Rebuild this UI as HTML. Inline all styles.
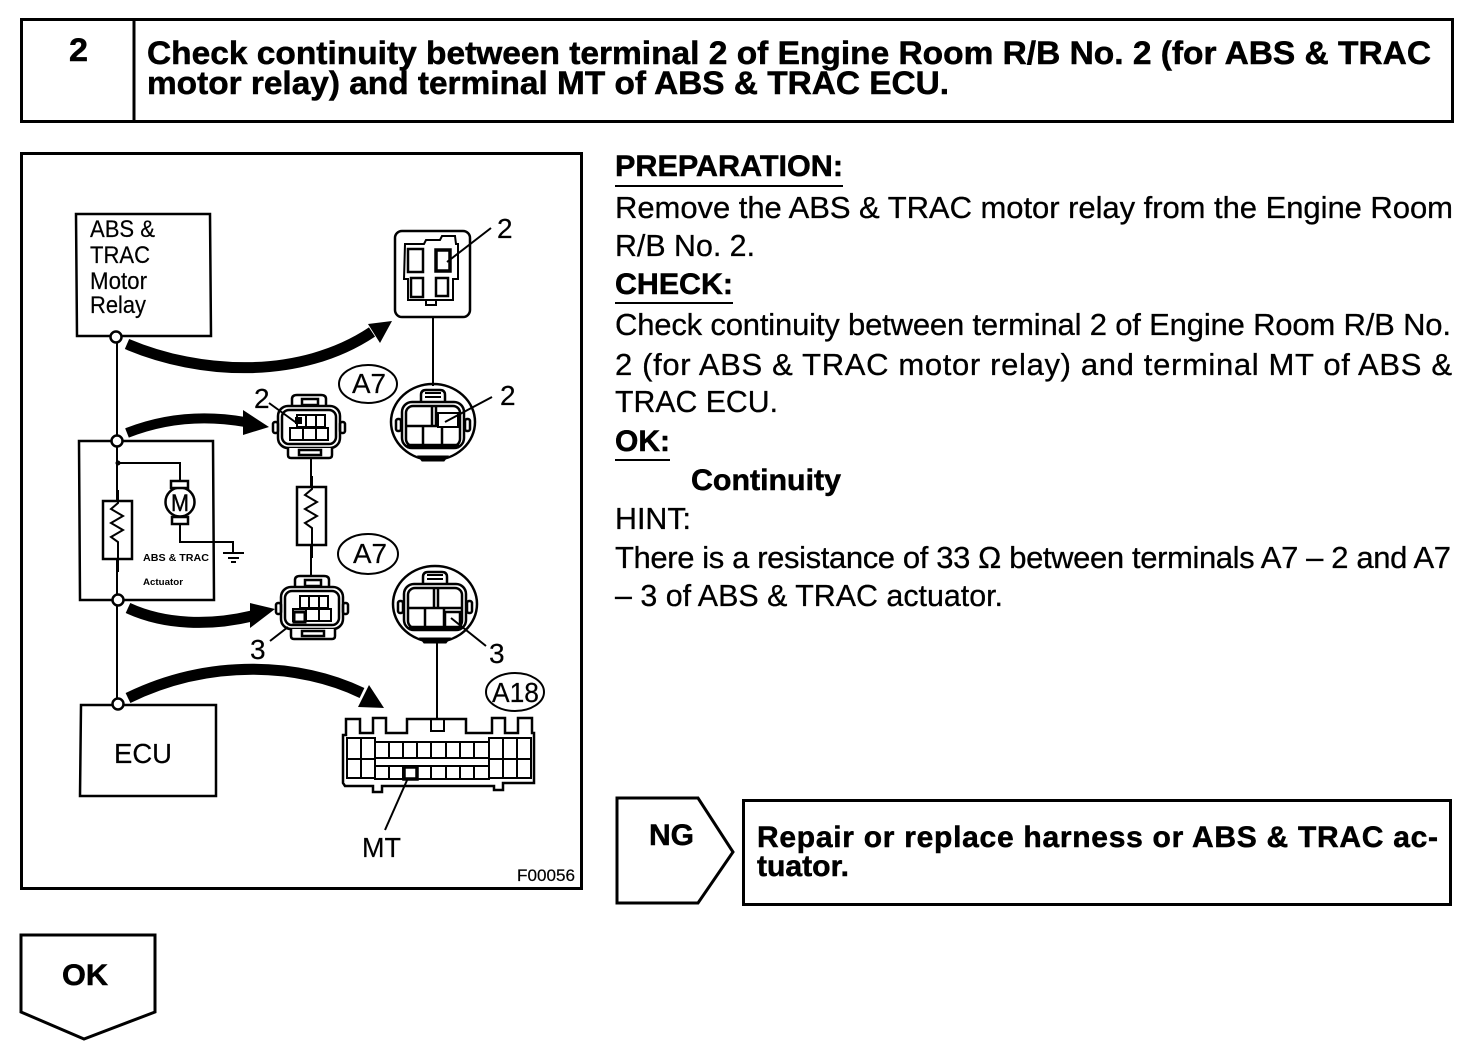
<!DOCTYPE html>
<html><head><meta charset="utf-8"><style>
html,body{margin:0;padding:0;background:#fff}
svg{display:block}
text{font-family:"Liberation Sans",sans-serif;fill:#000}
.t{font-size:32px;font-weight:bold;stroke:#000;stroke-width:.5}
.b{font-size:31px;stroke:#000;stroke-width:.3}
.h{font-size:30px;font-weight:bold;stroke:#000;stroke-width:.5}
.l{font-size:28px;stroke:#000;stroke-width:.2}
.s{font-size:24px;stroke:#000;stroke-width:.2}
.n{font-size:29px}
</style></head><body>
<svg width="1472" height="1064" viewBox="0 0 1472 1064" xmlns="http://www.w3.org/2000/svg">
<defs>
<g id="conn" fill="none" stroke="#000" stroke-width="2.5">
<path d="M-18,-20 v-8 q0,-4 5,-4 h24 q5,0 5,4 v8" fill="#fff"/>
<rect x="-8" y="-28" width="16" height="6"/>
<rect x="-32" y="-21" width="62" height="42" rx="10" fill="#fff"/>
<rect x="-28" y="-17" width="54" height="34" rx="7"/>
<rect x="-37" y="-5" width="5" height="11" rx="2"/>
<rect x="30" y="-5" width="5" height="11" rx="2"/>
<path d="M-22,21 v7 q0,3 3,3 h38 q3,0 3,-3 v-7" fill="#fff"/>
<rect x="-11" y="23" width="22" height="5"/>
<path d="M-13,-12 h28 v12 h-28 z M-4,-12 v12 M6,-12 v12 M-20,1 h38 v12 h-38 z M-7,1 v12 M6,1 v12" stroke-width="2"/>
</g>
<g id="round" fill="none" stroke="#000" stroke-width="2.5">
<ellipse cx="0" cy="-3" rx="42" ry="38"/>
<path d="M-12,-23 v-7 q0,-5 5,-5 h14 q5,0 5,5 v7" fill="#fff"/>
<path d="M-8,-28 h16 M-8,-32 h16" stroke-width="2"/>
<rect x="-31" y="-23" width="62" height="46" rx="10" fill="#fff"/>
<rect x="-27" y="-19" width="54" height="40" rx="7"/>
<path d="M-26,21 h52" stroke-width="4.5"/>
<path d="M-26,1 h53 M-10,1 v19 M9,1 v19 M-1,-18 v19 M3,-18 v19" stroke-width="2.5"/>
<path d="M-15,31 l4,5 h22 l4,-5 z" fill="#000" stroke-width="1"/>
<rect x="-37" y="-6" width="5" height="12" rx="2"/>
<rect x="32" y="-6" width="5" height="12" rx="2"/>
</g>
<g id="res" fill="none" stroke="#000" stroke-width="2.5">
<rect x="-15" y="-29" width="29" height="58" fill="#fff"/>
<path d="M0,-40 v13 l-7,6 l12,7 l-12,7 l12,7 l-12,7 l7,5 v30" stroke-width="2"/>
</g>
</defs>

<!-- header -->
<rect x="21.5" y="19.5" width="1431" height="102" fill="none" stroke="#000" stroke-width="3"/>
<line x1="134" y1="19" x2="134" y2="121" stroke="#000" stroke-width="3"/>
<text x="69" y="61" class="t" textLength="19" lengthAdjust="spacingAndGlyphs">2</text>
<text x="147" y="64" class="t" textLength="1284" lengthAdjust="spacingAndGlyphs">Check continuity between terminal 2 of Engine Room R/B No. 2 (for ABS &amp; TRAC</text>
<text x="147" y="94" class="t" textLength="802" lengthAdjust="spacingAndGlyphs">motor relay) and terminal MT of ABS &amp; TRAC ECU.</text>

<!-- diagram frame -->
<rect x="21.5" y="153.5" width="560" height="735" fill="none" stroke="#000" stroke-width="3"/>

<!-- left blocks -->
<g fill="none" stroke="#000" stroke-width="2.5">
<path d="M76,214 H210 L211,336 H77 Z"/>
<path d="M79,441 H213 L214,600 H80 Z"/>
<path d="M81,705 H216 V796 H80 Z"/>
<path d="M117,337 V705" stroke-width="2"/>
<path d="M118,463 H180 V481" stroke-width="2"/>
<path d="M180,524 V542 H233 V553" stroke-width="2"/>
<path d="M223,553 H244 M228,558 H239 M231,562 H236" stroke-width="2"/>
<circle cx="180" cy="502" r="14.5"/>
<rect x="171" y="481" width="17" height="7" fill="#fff"/>
<rect x="172" y="517" width="16" height="7" fill="#fff"/>
</g>
<circle cx="118" cy="463" r="2.5" fill="#000"/>
<use href="#res" x="118" y="530"/>
<g fill="#fff" stroke="#000" stroke-width="2.5">
<circle cx="116" cy="337" r="5.5"/><circle cx="117" cy="441" r="5.5"/>
<circle cx="118" cy="600" r="5.5"/><circle cx="118" cy="704" r="5.5"/>
</g>
<text x="90" y="237" class="s" textLength="65" lengthAdjust="spacingAndGlyphs">ABS &amp;</text>
<text x="90" y="263" class="s" textLength="60" lengthAdjust="spacingAndGlyphs">TRAC</text>
<text x="90" y="289" class="s" textLength="57" lengthAdjust="spacingAndGlyphs">Motor</text>
<text x="90" y="313" class="s" textLength="56" lengthAdjust="spacingAndGlyphs">Relay</text>
<text x="114" y="763" class="l" textLength="58" lengthAdjust="spacingAndGlyphs">ECU</text>
<text x="143" y="561" font-size="10" font-weight="bold" textLength="66" lengthAdjust="spacingAndGlyphs">ABS &amp; TRAC</text>
<text x="143" y="585" font-size="9" font-weight="bold" textLength="40" lengthAdjust="spacingAndGlyphs">Actuator</text>
<text x="171" y="511" font-size="24" stroke="#000" stroke-width=".4" textLength="18" lengthAdjust="spacingAndGlyphs">M</text>

<!-- thick arrows -->
<g fill="none" stroke="#000" stroke-linecap="butt">
<path d="M127,344 C200,375 300,380 372,332" stroke-width="11"/>
<path d="M127,433 C165,418 205,415 245,422" stroke-width="10"/>
<path d="M128,608 C165,625 210,626 252,616" stroke-width="11"/>
<path d="M128,698 C210,658 300,663 362,693" stroke-width="11"/>
</g>
<g fill="#000">
<path d="M392,321 L368,324 L380,343 Z"/>
<path d="M269,427 L243,410 L243,435 Z"/>
<path d="M275,609 L250,603 L250,628 Z"/>
<path d="M384,708 L369,685 L358,707 Z"/>
</g>

<!-- relay socket -->
<g fill="none" stroke="#000" stroke-width="2.5">
<rect x="395" y="231" width="75" height="86" rx="7"/>
<path d="M405,244 H424 L426,240 H440 L442,236 H455 L456,244 H458 V279 H453 V300 H408 V279 H404 Z" stroke-width="2"/>
<rect x="408" y="249" width="15" height="23"/>
<rect x="436" y="250" width="14" height="21" stroke-width="3.5"/>
<rect x="411" y="278" width="12" height="19"/>
<rect x="436" y="278" width="12" height="18"/>
<path d="M447,262 L491,228 M433,317 V386 M426,300 h10 v5 h-10z" stroke-width="2"/>
</g>
<use href="#round" x="433" y="425"/>
<rect x="438" y="413" width="20" height="14" fill="#fff" stroke="#000" stroke-width="2"/>
<path d="M445,422 L492,397" stroke="#000" stroke-width="2" fill="none"/>

<!-- small connectors -->
<use href="#conn" x="310" y="427"/>
<use href="#conn" x="313" y="608"/>
<path d="M269,403 L298,424" stroke="#000" stroke-width="2" fill="none"/>
<rect x="295" y="417" width="7" height="7" fill="#000"/>
<rect x="294" y="612" width="11" height="10" fill="#fff" stroke="#000" stroke-width="3"/>
<path d="M270,641 L288,627" stroke="#000" stroke-width="2" fill="none"/>
<path d="M311,458 V487" stroke="#000" stroke-width="2" fill="none"/>
<use href="#res" x="312" y="516"/>
<path d="M311,544 V575" stroke="#000" stroke-width="2" fill="none"/>

<!-- lower round -->
<use href="#round" x="435" y="607"/>
<rect x="445" y="612" width="15" height="15" fill="#fff" stroke="#000" stroke-width="2.5"/>
<path d="M451,618 L486,646" stroke="#000" stroke-width="2" fill="none"/>
<path d="M437,643 V720" stroke="#000" stroke-width="2" fill="none"/>

<!-- A18 -->
<g fill="none" stroke="#000" stroke-width="2.5">
<path d="M343,735 H346 V719 H360 V733 H373 V718 H386 V733 H407 V719 H466 V733 H492 V718 H505 V733 H518 V718 H532 V733 H534 V783 H503 V790 H494 V786 H382 V792 H373 V786 H345 L343,783 Z"/>
<path d="M347,738 H375 V778 H347 Z M361,738 V778 M347,759 H375" stroke-width="2"/>
<path d="M375,742 H489 V758 H375 Z M375,766 H489 V779 H375 Z" stroke-width="2"/>
<path d="M389,742 V758 M403,742 V758 M417,742 V758 M431,742 V758 M446,742 V758 M460,742 V758 M474,742 V758 M389,766 V779 M403,766 V779 M417,766 V779 M431,766 V779 M446,766 V779 M460,766 V779 M474,766 V779" stroke-width="2"/>
<path d="M489,738 H531 V778 H489 Z M503,738 V778 M517,738 V778 M489,759 H531" stroke-width="2"/>
<rect x="404" y="767" width="13" height="12" stroke-width="3.5"/>
<path d="M431,719 V731 H444 V719" stroke-width="2"/>
<path d="M408,778 L385,830" stroke-width="2"/>
</g>

<!-- ovals -->
<g fill="none" stroke="#000" stroke-width="2">
<ellipse cx="368" cy="384" rx="29" ry="19"/>
<ellipse cx="368" cy="554" rx="30" ry="20"/>
<ellipse cx="515" cy="692" rx="29" ry="19"/>
</g>
<text x="352" y="393" class="l" textLength="34" lengthAdjust="spacingAndGlyphs">A7</text>
<text x="353" y="563" class="l" textLength="34" lengthAdjust="spacingAndGlyphs">A7</text>
<text x="492" y="702" class="l" textLength="47" lengthAdjust="spacingAndGlyphs">A18</text>
<text x="497" y="238" class="l">2</text>
<text x="500" y="405" class="l">2</text>
<text x="254" y="408" class="l">2</text>
<text x="250" y="659" class="l">3</text>
<text x="489" y="663" class="l">3</text>
<text x="362" y="857" class="l" textLength="39" lengthAdjust="spacingAndGlyphs">MT</text>
<text x="517" y="881" font-size="17" stroke="#000" stroke-width=".2" textLength="58" lengthAdjust="spacingAndGlyphs">F00056</text>

<!-- right text -->
<text x="615" y="176" class="h" textLength="228" lengthAdjust="spacingAndGlyphs">PREPARATION:</text>
<line x1="615" y1="186" x2="843" y2="186" stroke="#000" stroke-width="2"/>
<text x="615" y="218" class="b" textLength="838" lengthAdjust="spacing">Remove the ABS &amp; TRAC motor relay from the Engine Room</text>
<text x="615" y="256" class="b" textLength="140" lengthAdjust="spacingAndGlyphs">R/B No. 2.</text>
<text x="615" y="294" class="h" textLength="118" lengthAdjust="spacingAndGlyphs">CHECK:</text>
<line x1="615" y1="303" x2="733" y2="303" stroke="#000" stroke-width="2"/>
<text x="615" y="335" class="b" textLength="836" lengthAdjust="spacing">Check continuity between terminal 2 of Engine Room R/B No.</text>
<text x="615" y="375" class="b" textLength="837" lengthAdjust="spacing">2 (for ABS &amp; TRAC motor relay) and terminal MT of ABS &amp;</text>
<text x="615" y="412" class="b" textLength="163" lengthAdjust="spacingAndGlyphs">TRAC ECU.</text>
<text x="615" y="451" class="h" textLength="55" lengthAdjust="spacingAndGlyphs">OK:</text>
<line x1="615" y1="460" x2="670" y2="460" stroke="#000" stroke-width="2"/>
<text x="691" y="490" class="h" textLength="150" lengthAdjust="spacingAndGlyphs">Continuity</text>
<text x="615" y="529" class="b" textLength="76" lengthAdjust="spacingAndGlyphs">HINT:</text>
<text x="615" y="568" class="b" textLength="836" lengthAdjust="spacing">There is a resistance of 33 Ω between terminals A7 – 2 and A7</text>
<text x="615" y="606" class="b" textLength="388" lengthAdjust="spacingAndGlyphs">– 3 of ABS &amp; TRAC actuator.</text>

<!-- NG -->
<path d="M617,798 H698 L733,852 L698,903 H617 Z" fill="none" stroke="#000" stroke-width="3"/>
<text x="649" y="845" class="h" textLength="45" lengthAdjust="spacingAndGlyphs">NG</text>
<rect x="743.5" y="800.5" width="707" height="104" fill="none" stroke="#000" stroke-width="3"/>
<text x="757" y="847" class="h" textLength="681" lengthAdjust="spacing">Repair or replace harness or ABS &amp; TRAC ac-</text>
<text x="757" y="876" class="h" textLength="92" lengthAdjust="spacingAndGlyphs">tuator.</text>

<!-- OK -->
<path d="M21,935 H155 V1012 L84,1039 L21,1012 Z" fill="none" stroke="#000" stroke-width="3"/>
<text x="62" y="985" class="h" textLength="46" lengthAdjust="spacingAndGlyphs">OK</text>
</svg>
</body></html>
